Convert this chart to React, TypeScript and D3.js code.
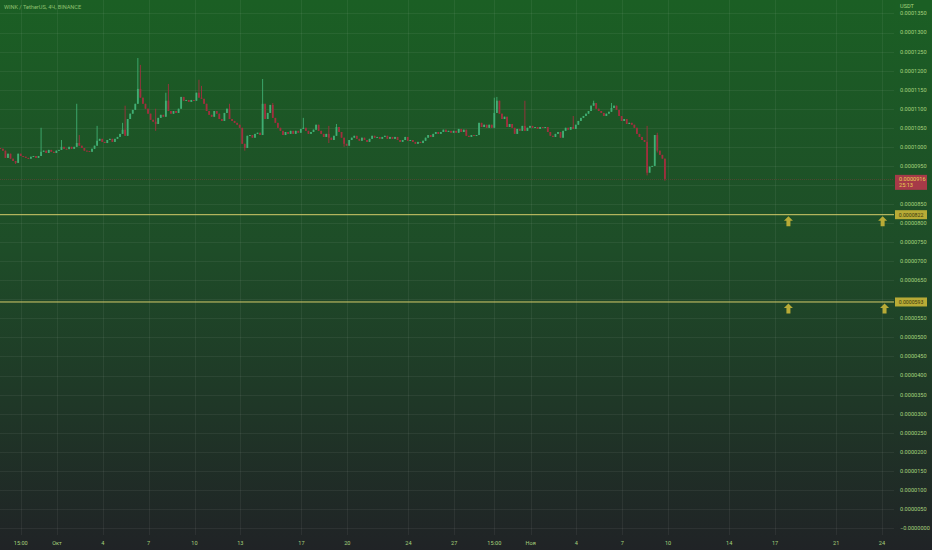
import { useRef, useEffect } from "react";
import * as d3 from "d3";

const W = 932;
const H = 550;

// prices are kept in units of 0.0000001 USDT
const PRICE_UNIT = 1e-7;

const title = "WINK / TetherUS, 4Ч, BINANCE";
const quoteCurrency = "USDT";
const countdown = "25:13";

const firstCandleTime = "2023-09-27T07:00+03:00";
const candleHours = 4;
const firstOpen = 997;

const closes = [
  995, 990, 971, 982, 969, 963, 958, 982, 976, 974,
  971, 969, 974, 976, 971, 976, 987, 990, 984, 992,
  987, 984, 990, 992, 1000, 995, 994, 1000, 995, 1000,
  1010, 1003, 997, 990, 989, 987, 995, 1003, 1016, 1021,
  1013, 1010, 1018, 1021, 1013, 1021, 1026, 1034, 1045, 1029,
  1073, 1087, 1097, 1113, 1152, 1129, 1113, 1100, 1087, 1071,
  1066, 1060, 1076, 1084, 1079, 1121, 1094, 1087, 1094, 1089,
  1100, 1131, 1121, 1123, 1118, 1123, 1121, 1142, 1129, 1126,
  1113, 1094, 1084, 1079, 1094, 1087, 1073, 1068, 1089, 1100,
  1073, 1068, 1063, 1058, 1050, 1008, 997, 1029, 1031, 1024,
  1034, 1037, 1031, 1113, 1073, 1089, 1110, 1076, 1063, 1050,
  1042, 1031, 1039, 1034, 1042, 1034, 1042, 1037, 1047, 1050,
  1042, 1034, 1039, 1045, 1058, 1042, 1034, 1026, 1034, 1024,
  1018, 1029, 1052, 1039, 1024, 1008, 1003, 1018, 1024, 1029,
  1021, 1016, 1024, 1018, 1013, 1021, 1029, 1024, 1026, 1021,
  1026, 1029, 1021, 1026, 1021, 1026, 1018, 1013, 1018, 1026,
  1016, 1018, 1013, 1008, 1013, 1010, 1016, 1024, 1031, 1026,
  1034, 1039, 1034, 1039, 1045, 1039, 1042, 1037, 1042, 1037,
  1047, 1039, 1045, 1029, 1026, 1031, 1029, 1031, 1063, 1052,
  1058, 1050, 1058, 1050, 1089, 1121, 1087, 1073, 1079, 1052,
  1060, 1050, 1034, 1047, 1042, 1055, 1042, 1050, 1055, 1050,
  1052, 1047, 1052, 1050, 1052, 1039, 1029, 1026, 1034, 1039,
  1024, 1042, 1050, 1045, 1052, 1047, 1058, 1068, 1076, 1081,
  1087, 1094, 1108, 1115, 1100, 1094, 1089, 1081, 1087, 1092,
  1102, 1108, 1097, 1081, 1068, 1073, 1060, 1063, 1058, 1050,
  1034, 1026, 1018, 1013, 932, 948, 950, 1031, 990, 979,
  969, 916,
];

// [candle index, price] for the wicks that stand out
const wickHighs = [
  [16, 1050], [24, 1018], [30, 1113], [31, 1031], [38, 1055], [48, 1063],
  [49, 1108], [54, 1233], [55, 1215], [61, 1100], [65, 1142], [66, 1165],
  [78, 1176], [79, 1160], [90, 1113], [103, 1178], [107, 1115], [119, 1076],
  [129, 1055], [132, 1060], [194, 1129], [195, 1131], [206, 1121], [225, 1081],
  [233, 1121], [240, 1115], [254, 1055], [258, 1037],
];
const wickLows = [
  [6, 955], [61, 1042], [96, 990], [129, 1010], [135, 1000], [254, 925],
  [255, 940], [258, 985], [261, 911],
];

const levels = [822, 593];
const arrowMarks = [
  ["2023-11-17T21:00+03:00", 822],
  ["2023-11-24T01:00+03:00", 822],
  ["2023-11-17T21:00+03:00", 593],
  ["2023-11-24T04:00+03:00", 593],
];

const timeTicks = [
  ["15:00", "2023-09-28T15:00+03:00"],
  ["Окт", "2023-10-01T00:00+03:00"],
  ["4", "2023-10-04T00:00+03:00"],
  ["7", "2023-10-07T00:00+03:00"],
  ["10", "2023-10-10T00:00+03:00"],
  ["13", "2023-10-13T00:00+03:00"],
  ["17", "2023-10-17T00:00+03:00"],
  ["20", "2023-10-20T00:00+03:00"],
  ["24", "2023-10-24T00:00+03:00"],
  ["27", "2023-10-27T00:00+03:00"],
  ["15:00", "2023-10-29T15:00+03:00"],
  ["Ноя", "2023-11-01T00:00+03:00"],
  ["4", "2023-11-04T00:00+03:00"],
  ["7", "2023-11-07T00:00+03:00"],
  ["10", "2023-11-10T00:00+03:00"],
  ["14", "2023-11-14T00:00+03:00"],
  ["17", "2023-11-17T00:00+03:00"],
  ["21", "2023-11-21T00:00+03:00"],
  ["24", "2023-11-24T00:00+03:00"],
];

const priceTicks = d3.range(0, 1351, 50);

const FONT = "Roboto, 'DejaVu Sans', sans-serif";
const TEXT = "#a6d27c";
const UP = "#3fae73";
const DOWN = "#a0303e";
const LEVEL = "#d6cc6a";
const MARK = "#b8ab36";

const fmt = (v: number) => (v === 0 ? "\u22120.0000000" : (v * PRICE_UNIT).toFixed(7));

export default function App() {
  const svgRef = useRef(null);

  function renderChart() {
    const svg = d3.select(svgRef.current);
    svg.selectAll("*").remove();
    svg.attr("width", W).attr("height", H);

    const paneRight = 894;
    const paneBottom = 535;

    const x = d3
      .scaleTime()
      .domain([new Date("2023-10-01T00:00+03:00"), new Date("2023-11-24T00:00+03:00")])
      .range([57, 882]);
    const y = d3.scaleLinear().domain([0, 1300]).range([528, 32.5]);

    const defs = svg.append("defs");
    const grad = defs
      .append("linearGradient")
      .attr("id", "bg")
      .attr("x1", 0)
      .attr("y1", 0)
      .attr("x2", 0)
      .attr("y2", 1);
    grad.append("stop").attr("offset", "0%").attr("stop-color", "#1b5f24");
    grad.append("stop").attr("offset", "45%").attr("stop-color", "#1e4d28");
    grad.append("stop").attr("offset", "100%").attr("stop-color", "#202326");

    svg.append("rect").attr("width", W).attr("height", H).attr("fill", "url(#bg)");

    // grid
    const grid = svg.append("g").attr("stroke", "#ffffff").attr("stroke-opacity", 0.06);
    grid
      .selectAll("line.h")
      .data(priceTicks)
      .join("line")
      .attr("x1", 0)
      .attr("x2", paneRight)
      .attr("y1", (d) => Math.round(y(d)) + 0.5)
      .attr("y2", (d) => Math.round(y(d)) + 0.5);
    grid
      .selectAll("line.v")
      .data(timeTicks)
      .join("line")
      .attr("x1", (d) => Math.round(x(new Date(d[1]))) + 0.5)
      .attr("x2", (d) => Math.round(x(new Date(d[1]))) + 0.5)
      .attr("y1", 0)
      .attr("y2", paneBottom);

    // candles
    const t0 = new Date(firstCandleTime).getTime();
    const candles = closes.map((c, i) => {
      const o = i === 0 ? firstOpen : closes[i - 1];
      const hi = wickHighs.find((w) => w[0] === i);
      const lo = wickLows.find((w) => w[0] === i);
      return {
        t: new Date(t0 + i * candleHours * 3600 * 1000),
        o,
        c,
        h: hi ? hi[1] : Math.max(o, c),
        l: lo ? lo[1] : Math.min(o, c),
      };
    });

    const cg = svg.append("g");
    const nodes = cg.selectAll("g").data(candles).join("g");
    nodes
      .append("line")
      .attr("x1", (d) => x(d.t))
      .attr("x2", (d) => x(d.t))
      .attr("y1", (d) => y(d.h))
      .attr("y2", (d) => y(d.l))
      .attr("stroke", (d) => (d.c >= d.o ? UP : DOWN))
      .attr("stroke-width", 0.9);
    nodes
      .append("rect")
      .attr("x", (d) => x(d.t) - 0.9)
      .attr("width", 1.8)
      .attr("y", (d) => y(Math.max(d.o, d.c)))
      .attr("height", (d) => Math.max(1, Math.abs(y(d.o) - y(d.c))))
      .attr("fill", (d) => (d.c >= d.o ? UP : DOWN));

    // current price line
    const last = closes[closes.length - 1];
    svg
      .append("line")
      .attr("x1", 0)
      .attr("x2", paneRight)
      .attr("y1", Math.round(y(last)) + 0.5)
      .attr("y2", Math.round(y(last)) + 0.5)
      .attr("stroke", "#8a3a3a")
      .attr("stroke-opacity", 0.45)
      .attr("stroke-width", 1)
      .attr("stroke-dasharray", "1 1");

    // horizontal levels
    svg
      .selectAll("line.level")
      .data(levels)
      .join("line")
      .attr("x1", 0)
      .attr("x2", paneRight)
      .attr("y1", (d) => y(d))
      .attr("y2", (d) => y(d))
      .attr("stroke", LEVEL)
      .attr("stroke-width", 1);

    // arrows
    svg
      .selectAll("path.arrow")
      .data(arrowMarks)
      .join("path")
      .attr("transform", (d: any) => `translate(${x(new Date(d[0]))},${y(d[1]) + 1.5})`)
      .attr("d", "M0,0 L4.5,4.5 L2,4.5 L2,10 L-2,10 L-2,4.5 L-4.5,4.5 Z")
      .attr("fill", MARK);

    // right axis (labels hidden under the price boxes are skipped)
    const axisX = 900;
    const ly = y(last);
    const covered = (v: number) => {
      const py = y(v);
      if (py > ly - 8 && py < ly + 14) return true;
      return levels.some((lv) => Math.abs(y(lv) - py) < 8);
    };
    svg
      .append("g")
      .selectAll("text")
      .data(priceTicks.filter((d) => !covered(d)))
      .join("text")
      .attr("x", axisX)
      .attr("y", (d) => y(d))
      .attr("dy", "0.35em")
      .attr("font-family", FONT)
      .attr("font-size", 5.6)
      .attr("fill", TEXT)
      .text((d) => fmt(d));

    // level labels on axis
    const lv = svg.append("g").selectAll("g").data(levels).join("g");
    lv.append("rect")
      .attr("x", 895)
      .attr("y", (d) => y(d) - 4.5)
      .attr("width", 32)
      .attr("height", 9)
      .attr("fill", MARK);
    lv.append("text")
      .attr("x", 911)
      .attr("y", (d) => y(d))
      .attr("dy", "0.35em")
      .attr("text-anchor", "middle")
      .attr("font-family", FONT)
      .attr("font-size", 5.2)
      .attr("fill", "#3a3a10")
      .text((d) => fmt(d));

    // last price label
    svg
      .append("rect")
      .attr("x", 895)
      .attr("y", ly - 4)
      .attr("width", 32)
      .attr("height", 15)
      .attr("fill", "#a63a48");
    svg
      .append("text")
      .attr("x", 899)
      .attr("y", ly)
      .attr("dy", "0.35em")
      .attr("font-family", FONT)
      .attr("font-size", 5.6)
      .attr("fill", "#e8cf52")
      .text(fmt(last));
    svg
      .append("text")
      .attr("x", 899)
      .attr("y", ly + 6.5)
      .attr("dy", "0.35em")
      .attr("font-family", FONT)
      .attr("font-size", 5.6)
      .attr("fill", "#e8cf52")
      .text(countdown);

    // currency label at the top of the axis
    svg.append("rect").attr("x", 895).attr("y", 0).attr("width", 37).attr("height", 10).attr("fill", "#1b5f24");
    svg
      .append("text")
      .attr("x", axisX)
      .attr("y", 6)
      .attr("dy", "0.35em")
      .attr("font-family", FONT)
      .attr("font-size", 5.6)
      .attr("fill", TEXT)
      .text(quoteCurrency);

    // time axis
    svg
      .append("g")
      .selectAll("text")
      .data(timeTicks)
      .join("text")
      .attr("x", (d) => x(new Date(d[1])))
      .attr("y", 543)
      .attr("dy", "0.35em")
      .attr("text-anchor", "middle")
      .attr("font-family", FONT)
      .attr("font-size", 5.6)
      .attr("fill", TEXT)
      .text((d) => d[0]);

    // title
    svg
      .append("text")
      .attr("x", 4)
      .attr("y", 7)
      .attr("dy", "0.35em")
      .attr("font-family", FONT)
      .attr("font-size", 5.6)
      .attr("fill", "#8fc070")
      .text(title);
  }

  useEffect(() => {
    renderChart();
  }, []);

  return (
    <div>
      <style>{"body{margin:0}"}</style>
      <svg ref={svgRef} style={{ display: "block" }} />
    </div>
  );
}
